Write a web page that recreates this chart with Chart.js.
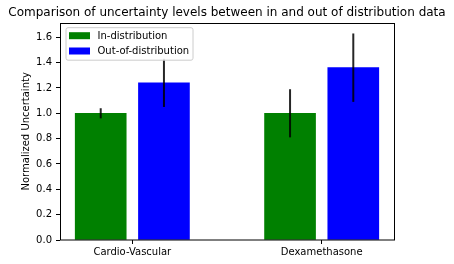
<!DOCTYPE html>
<html>
<head>
<meta charset="utf-8">
<script src="https://cdn.jsdelivr.net/npm/chart.js@4.4.0/dist/chart.umd.min.js"></script>
<style>
  html, body { margin: 0; padding: 0; background: #fff; }
  #wrap { width: 454px; height: 264px; }
</style>
</head>
<body>
<div id="wrap"><canvas id="uncChart"></canvas></div>
<script>
// data
const categories = ['Cardio-Vascular', 'Dexamethasone'];
const seriesLabels = ['In-distribution', 'Out-of-distribution'];
const inDist = [1.0, 1.0];
const inErr = [0.04, 0.19];
const outDist = [1.24, 1.36];
const outErr = [0.19, 0.27];
const yTicks = [0, 0.2, 0.4, 0.6, 0.8, 1.0, 1.2, 1.4, 1.6];

const FONT = 'DejaVu Sans';
const barOffset = 0.167; // half distance between the two bars of a group

// error bars drawn on top of the bars
const errorBars = {
    id: 'errorBars',
    afterDatasetsDraw(chart) {
        const ctx = chart.ctx;
        const y = chart.scales.y;
        ctx.save();
        ctx.strokeStyle = 'rgba(0,0,0,0.85)';
        ctx.lineWidth = 2;
        chart.data.datasets.forEach((ds, d) => {
            const meta = chart.getDatasetMeta(d);
            meta.data.forEach((bar, i) => {
                const v = ds.data[i].y, e = ds.errors[i];
                ctx.beginPath();
                ctx.moveTo(bar.x, y.getPixelForValue(v - e));
                ctx.lineTo(bar.x, y.getPixelForValue(v + e));
                ctx.stroke();
            });
        });
        ctx.restore();
    }
};

// box around the plot + legend in the upper left corner
const frameAndLegend = {
    id: 'frameAndLegend',
    afterDraw(chart) {
        const ctx = chart.ctx;
        const a = chart.chartArea;
        ctx.save();
        ctx.strokeStyle = '#000';
        ctx.lineWidth = 1;
        ctx.strokeRect(Math.round(a.left) + 0.5, Math.round(a.top) + 0.5,
            Math.round(a.right - a.left), Math.round(a.bottom - a.top) - 0.5);

        // legend
        const bx = a.left + 5.5, by = a.top + 4.5, bw = 127, bh = 32.5;
        ctx.fillStyle = 'rgba(255,255,255,0.85)';
        ctx.strokeStyle = '#cccccc';
        ctx.beginPath();
        ctx.roundRect(bx + 0.5, by + 0.5, bw, bh, 2);
        ctx.fill();
        ctx.stroke();
        ctx.font = '10px "' + FONT + '"';
        ctx.textBaseline = 'middle';
        ctx.textAlign = 'left';
        chart.data.datasets.forEach((ds, d) => {
            const rowY = by + 8.5 + d * 15.3;
            ctx.fillStyle = ds.backgroundColor;
            ctx.fillRect(bx + 3.5, rowY - 3.5, 21, 7);
            ctx.fillStyle = '#000';
            ctx.fillText(ds.label, bx + 32, rowY + 0.5);
        });
        ctx.restore();
    }
};

const data = {
    datasets: [{
        label: seriesLabels[0],
        data: inDist.map((v, i) => ({ x: i - barOffset, y: v })),
        errors: inErr,
        backgroundColor: '#008000'
    }, {
        label: seriesLabels[1],
        data: outDist.map((v, i) => ({ x: i + barOffset, y: v })),
        errors: outErr,
        backgroundColor: '#0000ff'
    }]
};

const config = {
    type: 'bar',
    data: data,
    options: {
        responsive: false,
        animation: false,
        grouped: false,
        barThickness: 51,
        layout: { padding: 0 },
        plugins: {
            legend: { display: false },
            tooltip: { enabled: false },
            title: {
                display: true,
                text: 'Comparison of uncertainty levels between in and out of distribution data',
                color: '#000',
                font: { family: FONT, size: 12, weight: 'normal' },
                padding: { top: 5.5, bottom: 2.8 }
            }
        },
        scales: {
            x: {
                type: 'linear',
                min: -0.382,
                max: 1.382,
                offset: false,
                grid: { display: true, drawOnChartArea: false, drawTicks: true, tickLength: 4, color: '#000', offset: false },
                border: { display: false },
                afterBuildTicks: scale => { scale.ticks = categories.map((c, i) => ({ value: i })); },
                afterFit: scale => { scale.height = 24; },
                ticks: {
                    color: '#000',
                    padding: 2,
                    maxRotation: 0,
                    font: { family: FONT, size: 10 },
                    callback: v => categories[v]
                }
            },
            y: {
                min: 0,
                max: 1.715,
                grid: { display: true, drawOnChartArea: false, drawTicks: true, tickLength: 4, color: '#000' },
                border: { display: false },
                afterBuildTicks: scale => { scale.ticks = yTicks.map(v => ({ value: v })); },
                afterFit: scale => { scale.width = 60; },
                title: {
                    display: true,
                    text: 'Normalized Uncertainty',
                    color: '#000',
                    font: { family: FONT, size: 10 },
                    padding: { top: 20.7, bottom: 0 }
                },
                ticks: {
                    color: '#000',
                    padding: 4,
                    font: { family: FONT, size: 10 },
                    callback: v => v.toFixed(1)
                }
            },
            // empty axis that only reserves the white margin on the right
            yRight: {
                position: 'right',
                min: 0,
                max: 1.715,
                grid: { display: false },
                border: { display: false },
                ticks: { display: false },
                afterFit: scale => { scale.width = 60; }
            }
        }
    },
    plugins: [errorBars, frameAndLegend]
};

const canvas = document.getElementById('uncChart');
canvas.width = 454;
canvas.height = 264;
new Chart(canvas, config);
</script>
</body>
</html>
